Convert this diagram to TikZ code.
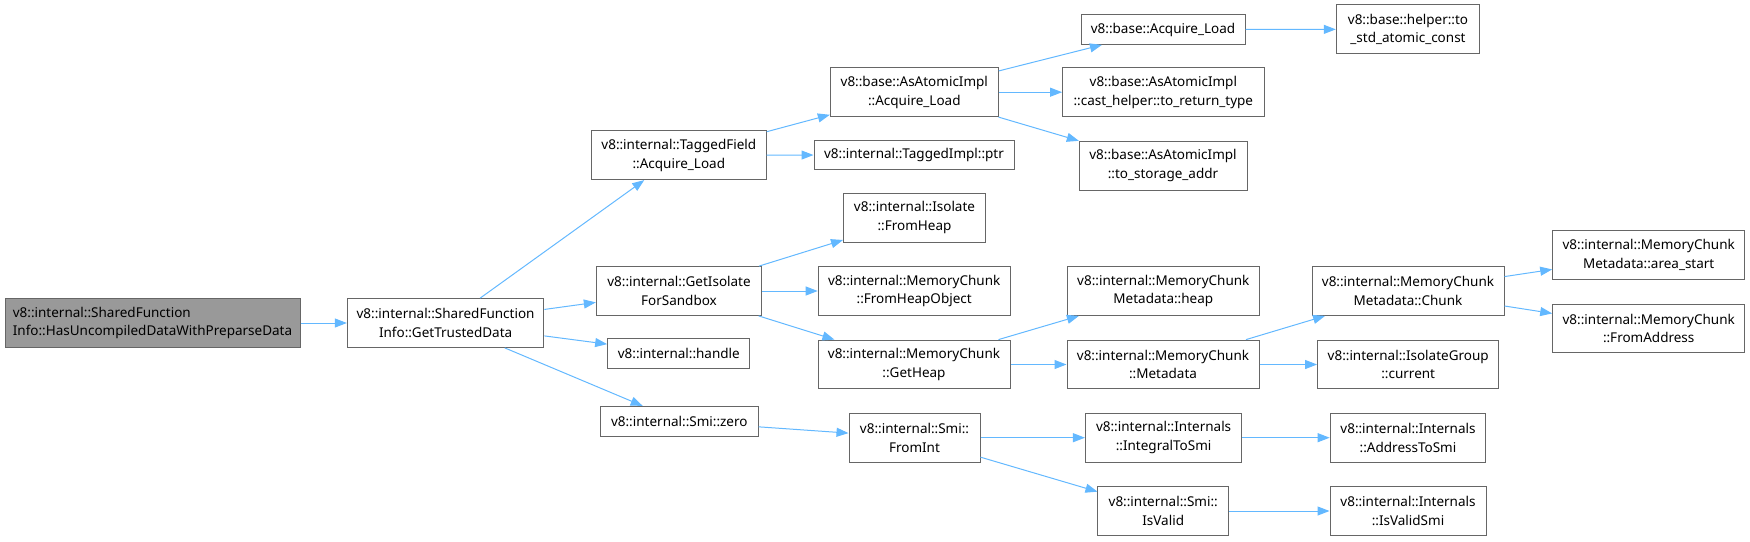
\documentclass[tikz,border=0pt]{standalone}
\usepackage{fontspec}
\setmainfont{Noto Sans}
\usetikzlibrary{arrows.meta}
\definecolor{boxgray}{HTML}{666666}
\definecolor{rootfill}{HTML}{999999}
\definecolor{edgeblue}{HTML}{63B8FF}
\begin{document}
\begin{tikzpicture}[x=1pt,y=-1pt,
    fn/.style={draw=boxgray,fill=white,line width=1pt,inner sep=0pt,
      minimum height=48.8pt,align=center,font=\fontsize{13.5}{18.7}\selectfont},
    fnone/.style={fn,minimum height=29.8pt},
    call/.style={draw=edgeblue,line width=1pt,-{Triangle[length=12pt,width=9pt]}}]
  \useasboundingbox (0,0) rectangle (1750,541);
  % caller and first level
  \node[fn,fill=rootfill,align=left,minimum width=295pt] (root) at (152.5,323)
    {v8::internal::SharedFunction\\Info::HasUncompiledDataWithPreparseData};
  \node[fn,minimum width=196.5pt] (gtd) at (445.6,323)
    {v8::internal::SharedFunction\\Info::GetTrustedData};
  \node[fn,minimum width=174.8pt] (tagged) at (678.8,155.2)
    {v8::internal::TaggedField\\::Acquire\_Load};
  \node[fn,minimum width=165.3pt] (getiso) at (679,291)
    {v8::internal::GetIsolate\\ForSandbox};
  \node[fnone,minimum width=142.3pt] (handle) at (678.8,353.5) {v8::internal::handle};
  \node[fnone,minimum width=157.7pt] (smizero) at (679.3,421.3) {v8::internal::Smi::zero};
  % third column
  \node[fn,minimum width=167.9pt] (asatomic) at (914.3,92.2)
    {v8::base::AsAtomicImpl\\::Acquire\_Load};
  \node[fnone,minimum width=200pt] (ptr) at (914,154.9) {v8::internal::TaggedImpl::ptr};
  \node[fn,minimum width=141.9pt] (fromheap) at (914.5,217.8)
    {v8::internal::Isolate\\::FromHeap};
  \node[fn,minimum width=192pt] (fromheapobj) at (914.2,291)
    {v8::internal::MemoryChunk\\::FromHeapObject};
  \node[fn,minimum width=192pt] (getheap) at (914,364.5)
    {v8::internal::MemoryChunk\\::GetHeap};
  \node[fn,minimum width=131pt] (fromint) at (914.5,437.7)
    {v8::internal::Smi::\\FromInt};
  % fourth column
  \node[fnone,minimum width=164pt] (baseacq) at (1163,29.5) {v8::base::Acquire\_Load};
  \node[fn,minimum width=201.4pt] (cast) at (1163.3,92.2)
    {v8::base::AsAtomicImpl\\::cast\_helper::to\_return\_type};
  \node[fn,minimum width=168pt] (storage) at (1163,165.7)
    {v8::base::AsAtomicImpl\\::to\_storage\_addr};
  \node[fn,minimum width=192pt] (mcmheap) at (1163.3,291)
    {v8::internal::MemoryChunk\\Metadata::heap};
  \node[fn,minimum width=192pt] (metadata) at (1163,364.5)
    {v8::internal::MemoryChunk\\::Metadata};
  \node[fn,minimum width=156.3pt] (integral) at (1163.6,437.7)
    {v8::internal::Internals\\::IntegralToSmi};
  \node[fn,minimum width=130.5pt] (isvalid) at (1163.2,511)
    {v8::internal::Smi::\\IsValid};
  % fifth column
  \node[fn,minimum width=143.4pt] (helper) at (1408,29.3)
    {v8::base::helper::to\\\_std\_atomic\_const};
  \node[fn,minimum width=192pt] (chunk) at (1408,291)
    {v8::internal::MemoryChunk\\Metadata::Chunk};
  \node[fn,minimum width=181.2pt] (current) at (1408.2,364.5)
    {v8::internal::IsolateGroup\\::current};
  \node[fn,minimum width=155.7pt] (addrsmi) at (1408,437.7)
    {v8::internal::Internals\\::AddressToSmi};
  \node[fn,minimum width=156pt] (isvalidsmi) at (1408,511)
    {v8::internal::Internals\\::IsValidSmi};
  % last column
  \node[fn,minimum width=192pt] (areastart) at (1648.7,255)
    {v8::internal::MemoryChunk\\Metadata::area\_start};
  \node[fn,minimum width=192pt] (fromaddr) at (1648.7,328.4)
    {v8::internal::MemoryChunk\\::FromAddress};
  % calls
  \foreach \a/\b in {root/gtd, gtd/tagged, gtd/getiso, gtd/handle, gtd/smizero,
      tagged/asatomic, tagged/ptr, asatomic/baseacq, asatomic/cast, asatomic/storage,
      baseacq/helper, getiso/fromheap, getiso/fromheapobj, getiso/getheap,
      getheap/mcmheap, getheap/metadata, metadata/chunk, metadata/current,
      chunk/areastart, chunk/fromaddr, smizero/fromint, fromint/integral,
      fromint/isvalid, integral/addrsmi, isvalid/isvalidsmi}
    \draw[call] (\a) -- (\b);
\end{tikzpicture}
\end{document}
